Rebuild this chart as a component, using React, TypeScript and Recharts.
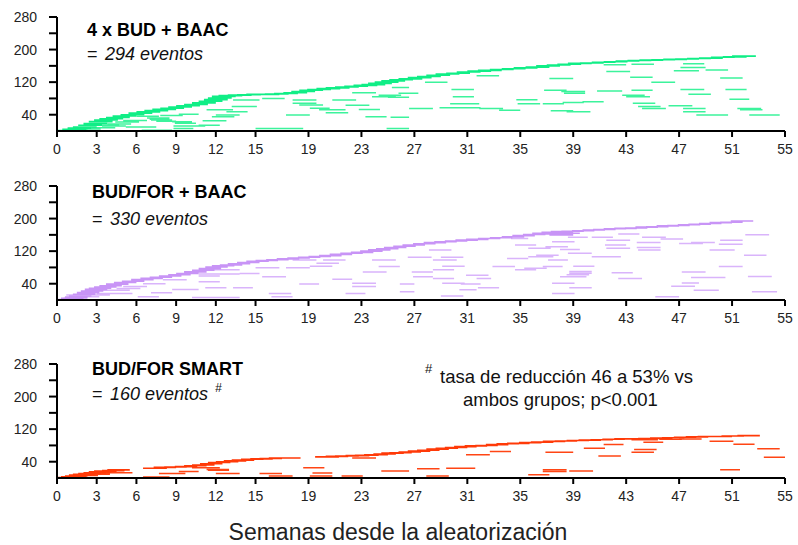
import React from 'react';
import { LineChart, Line, XAxis, YAxis } from 'recharts';

// Each segment: [start week, end week, row value]
const xTicks = [0, 3, 6, 9, 12, 15, 19, 23, 27, 31, 35, 39, 43, 47, 51, 55];
const yTicks = [40, 80, 120, 160, 200, 240, 280];
const yLabels = [40, 120, 200, 280];

const p1Top: number[][] = [
  [0,1.8,1],[0.4,2.2,4],[0.8,2.6,7],[1.2,3.0,10],[1.6,3.4,14],[2.0,3.8,18],[2.4,4.2,23],[2.8,4.6,27],[3.2,5.0,30],[3.7,5.5,33],
  [4.2,6.0,37],[4.8,6.6,40],[5.4,7.2,44],[6.0,7.8,47],[6.6,8.4,50],[7.2,9.0,53],[7.8,9.6,56],[8.4,10.2,59],[9.0,10.8,62],[9.6,11.4,65],
  [10.2,12.0,69],[10.7,12.5,73],[11.1,12.9,77],[11.4,13.2,81],[11.7,13.5,85],[12.2,14.0,87],[12.9,14.7,88],[13.6,15.4,89],[14.3,16.1,90],[15.0,16.8,90],
  [15.7,17.5,91],[16.4,18.2,92],[17.1,18.9,94],[17.7,19.5,97],[18.3,20.1,100],[18.9,20.7,102],[19.6,21.4,104],[20.3,22.1,106],[21.0,22.8,108],[21.7,23.5,110],
  [22.4,24.2,112],[23.0,24.8,114],[23.5,25.3,117],[24.0,25.8,120],[24.5,26.3,123],[25.1,26.9,126],[25.8,27.6,128],[26.5,28.3,131],[27.2,29.0,134],[27.9,29.7,137],
  [28.6,30.4,140],[29.4,31.2,142],[30.2,32.0,145],[31.0,32.8,147],[31.8,33.6,149],[32.7,34.5,151],[33.6,35.4,153],[34.5,36.3,155],[35.4,37.2,157],[36.2,38.0,160],
  [37.0,38.8,162],[37.8,39.6,164],[38.6,40.4,166],[39.5,41.3,167],[40.4,42.2,169],[41.3,43.1,170],[42.2,44.0,172],[43.1,44.9,173],[44.0,45.8,174],[44.9,46.7,175],
  [45.8,47.6,176],[46.7,48.5,177],[47.6,49.4,178],[48.5,50.3,179],[49.4,51.2,181],[50.3,52.1,182],[51.0,52.8,184],
];
const p1Low: number[][] = [
  [0.5,2.3,3],[1.5,3.3,5],[2.6,4.4,8],[3.4,5.2,12],[3.8,5.6,17],[4.4,6.2,22],[5.0,6.8,26],[2.9,4.7,14],[5.2,7.5,10],[6.4,8.7,2],
  [7.1,8.7,27],[7.0,8.5,29],[7.5,9.0,24],[8.7,10.2,23],[8.8,10.7,12],[8.9,10.5,19],[9.2,10.7,41],[8.8,10.3,6],[9.9,11.2,12],[10.7,12.3,14],
  [11.0,12.8,25],[11.7,13.4,35],[11.3,13.3,52],[12.8,14.4,47],[13.2,15.1,60],[13.3,15.3,76],[12.0,13.8,39],[6.0,7.7,36],[6.8,8.5,32],[7.8,9.5,38],
  [15.0,16.8,6],[16.6,18.6,6],[15.5,17.2,80],[17.8,19.6,76],[17.8,19.6,68],[19.1,20.6,56],[17.3,19.1,39],[18.3,20.1,64],[19.8,21.8,52],[20.3,22.0,45],
  [21.8,23.6,63],[22.8,24.4,53],[23.3,24.9,35],[20.8,22.6,76],[22.3,24.1,94],[23.8,25.6,84],[24.3,26.0,88],[24.9,26.6,6],[25.3,26.6,107],[25.8,27.3,93],
  [25.0,26.6,83],[25.2,26.6,34],[27.8,29.5,120],[37.2,39.0,129],[29.8,31.5,102],[29.9,31.5,84],[36.8,38.5,100],[38.1,39.9,97],[38.3,39.9,93],[40.8,42.7,98],
  [41.5,43.3,146],[43.3,45.0,132],[44.9,46.7,120],[43.4,45.0,100],[42.7,44.4,88],[43.0,44.8,84],[43.5,45.2,68],[46.2,48.0,62],[47.1,48.9,102],[47.7,49.4,90],
  [46.6,48.5,148],[50.1,51.8,130],[50.5,52.1,102],[50.8,52.3,78],[34.7,36.3,77],[34.8,36.5,67],[36.7,38.3,67],[38.2,39.8,70],[39.7,41.3,72],[29.7,31.9,67],
  [28.9,30.4,57],[30.4,32.0,57],[31.9,33.7,55],[33.4,35.0,51],[26.6,28.4,55],[37.3,39.0,50],[38.5,40.3,47],[43.9,45.6,60],[44.2,46.0,55],[47.3,49.0,55],
  [47.3,49.0,47],[48.3,50.7,39],[51.4,53.2,55],[51.6,53.3,52],[52.3,54.6,39],[31.7,33.4,136],[49.0,50.7,150],[47.1,49.0,156],[43.4,45.1,164],[41.3,43.0,163],
  [47.3,48.9,165],
];

const p2Top: number[][] = [
  [0,1.7,1],[0.3,2.0,4],[0.6,2.3,7],[0.9,2.6,10],[1.2,2.9,14],[1.5,3.2,18],[1.8,3.5,22],[2.1,3.8,26],[2.4,4.1,29],[2.8,4.5,32],
  [3.2,4.9,35],[3.7,5.4,39],[4.3,6.0,43],[4.9,6.6,46],[5.6,7.3,50],[6.3,8.0,53],[7.0,8.7,56],[7.7,9.4,59],[8.4,10.1,62],[9.0,10.7,65],
  [9.6,11.3,69],[10.2,11.9,73],[10.7,12.4,77],[11.2,12.9,81],[11.7,13.4,84],[12.3,14.0,86],[12.9,14.6,89],[13.6,15.3,92],[14.3,16.0,95],[15.0,16.7,97],
  [15.8,17.5,99],[16.6,18.3,101],[17.4,19.1,103],[18.2,19.9,105],[19.0,20.7,107],[19.8,21.5,109],[20.6,22.3,112],[21.4,23.1,115],[22.2,23.9,117],[22.9,24.6,120],
  [23.5,25.2,123],[24.1,25.8,126],[24.7,26.4,129],[25.4,27.1,132],[26.1,27.8,135],[26.9,28.6,138],[27.7,29.4,141],[28.5,30.2,143],[29.3,31.0,145],[30.1,31.8,147],
  [30.9,32.6,149],[31.8,33.5,151],[32.7,34.4,153],[33.6,35.3,155],[34.4,36.1,158],[35.2,36.9,161],[35.9,37.6,164],[36.6,38.3,166],[37.3,39.0,168],[38.1,39.8,169],
  [38.9,40.6,170],[39.7,41.4,172],[40.5,42.2,173],[41.3,43.0,175],[42.1,43.8,176],[42.9,44.6,177],[43.7,45.4,179],[44.5,46.2,180],[45.3,47.0,182],[46.1,47.8,183],
  [46.9,48.6,185],[47.7,49.4,186],[48.5,50.2,188],[49.3,51.0,190],[50.1,51.8,191],[50.9,52.6,194],[36.8,38.6,162],[37.2,39.0,160],[37.8,39.5,164],
];
const p2Low: number[][] = [
  [0.5,2.3,4],[1.4,3.2,8],[2.2,4.0,12],[3.0,4.8,16],[3.2,5.5,24],[3.9,5.7,16],[4.5,6.3,28],[0.7,2.4,12],[6.1,7.7,8],[7.1,8.7,18],
  [8.7,10.7,26],[10.2,12.0,6],[12.0,13.8,6],[10.7,12.3,59],[10.7,13.8,64],[11.7,13.8,74],[10.7,12.3,45],[11.2,12.8,30],[13.8,15.3,65],[15.0,16.8,79],
  [15.5,17.3,57],[16.2,17.8,8],[16.0,17.7,16],[13.3,14.8,30],[17.3,19.1,79],[17.8,19.6,98],[18.3,19.8,39],[19.1,20.8,83],[19.6,21.3,90],[20.1,21.8,98],
  [20.8,22.3,51],[21.8,23.3,16],[22.3,24.1,33],[22.3,24.1,41],[23.1,24.9,69],[23.8,25.6,98],[24.3,25.9,82],[8.0,9.8,50],[6.5,8.2,40],[5.0,6.8,33],
  [28.1,29.8,123],[26.5,28.3,105],[28.4,30.2,98],[29.0,30.7,105],[29.1,30.8,83],[28.4,30.0,74],[26.8,28.4,69],[26.9,28.4,57],[28.4,30.0,53],[25.9,27.0,39],
  [25.9,27.0,20],[29.0,30.7,10],[29.1,30.8,41],[30.5,32.0,39],[30.9,32.6,61],[31.7,32.8,53],[31.8,33.4,30],[30.4,31.7,25],[32.9,34.6,82],[34.6,36.2,74],
  [35.3,37.0,78],[34.0,35.6,102],[34.6,36.2,135],[34.3,35.6,151],[35.6,37.5,106],[36.2,37.9,110],[36.9,38.6,131],[35.6,37.3,127],[37.4,39.1,143],[38.0,39.5,124],
  [37.1,38.6,98],[38.7,40.4,70],[38.7,40.4,66],[38.5,40.2,62],[38.0,40.0,57],[39.0,40.6,83],[36.7,38.2,82],[37.4,39.1,41],[38.7,40.4,30],[37.4,39.1,16],
  [38.6,40.4,115],[40.4,42.6,106],[40.4,42.0,154],[38.6,40.1,154],[41.5,43.3,147],[41.4,43.0,135],[41.5,43.3,127],[42.4,44.0,162],[41.9,43.5,67],[42.4,44.2,53],
  [43.8,45.6,141],[43.8,45.6,129],[43.9,45.6,123],[44.2,46.0,154],[45.6,47.3,150],[47.0,48.8,139],[47.9,49.7,141],[49.3,51.2,123],[50.1,51.8,147],[50.0,51.8,137],
  [52.0,53.8,160],[51.9,53.6,110],[50.0,51.8,82],[47.2,49.0,69],[47.9,49.7,55],[48.7,50.5,55],[47.2,48.5,42],[46.4,48.2,34],[48.1,50.0,24],[52.2,54.0,58],
  [52.5,54.4,20],[45.2,47.0,8],
];

const p3Top: number[][] = [
  [0,1.7,1],[0.3,2.0,3],[0.6,2.3,5],[0.9,2.6,7],[1.2,2.9,9],[1.6,3.3,11],[2.0,3.7,13],[2.4,4.1,15],[2.8,4.5,17],[3.4,5.1,18],
  [3.8,5.5,20],[6.5,8.3,24],[7.3,9.0,26],[8.1,9.8,27],[8.9,10.6,28],[9.6,11.3,30],[10.2,11.9,32],[10.8,12.5,35],[11.4,13.1,38],[12.0,13.7,40],
  [12.6,14.3,42],[13.2,14.9,44],[13.9,15.6,46],[14.6,16.3,47],[15.3,17.0,48],[16.0,17.7,49],[16.6,18.4,49],[19.5,21.3,52],[20.3,22.0,53],[21.0,22.8,54],
  [21.8,23.6,55],[22.5,24.3,56],[23.2,25.0,57],[23.9,25.6,59],[24.5,26.2,61],[25.1,26.8,62],[25.8,27.5,64],[26.5,28.2,66],[27.2,28.9,68],[27.9,29.6,71],
  [28.6,30.3,73],[29.3,31.0,75],[30.0,31.7,77],[30.8,32.5,79],[31.6,33.3,80],[32.4,34.1,82],[33.2,34.9,84],[34.0,35.7,85],[34.9,36.6,87],[35.8,37.5,88],
  [36.7,38.4,90],[37.6,39.3,91],[38.5,40.2,92],[39.4,41.1,93],[40.3,42.0,94],[41.2,42.9,95],[42.1,43.8,96],[43.0,44.7,96],[43.9,45.6,97],[44.8,46.5,98],
  [45.7,47.4,99],[46.6,48.3,100],[47.5,49.2,101],[48.4,50.1,102],[49.3,51.0,102],[50.2,51.9,103],[51.4,53.1,104],
];
const p3Low: number[][] = [
  [0.5,2.2,3],[1.4,3.1,6],[2.2,4.0,9],[3.2,5.7,13],[6.5,8.5,2.5],[7.7,9.7,11],[9.2,10.7,16],[12.0,13.8,11],[11.4,13.0,19],[11.3,13.0,21],
  [10.2,12.3,25],[16.0,17.8,5],[15.3,17.0,11],[18.6,20.2,25],[19.1,20.8,5],[19.3,20.8,12],[21.5,23.1,5],[22.3,24.1,49],[24.5,25.9,17],[30.9,32.7,57],
  [32.7,34.3,65],[36.9,39.0,63],[39.8,41.4,73],[41.3,42.8,82],[40.9,42.6,54],[43.4,45.1,63],[43.6,45.3,70],[43.4,45.4,94],[44.3,45.8,88],[49.3,51.1,90],
  [51.1,52.7,83],[52.9,54.6,72],[53.4,55.0,51],[50.1,51.6,20],[27.2,28.9,23],[29.4,31.6,24],[25.9,26.6,17],[27.9,29.6,5],[35.6,37.2,8],[36.7,38.5,20.5],
  [36.7,38.5,16],[38.7,40.5,17],[47.0,48.7,96],[45.5,47.2,95],
];

type Pt = { x: number; y: number | null };
const flatten = (segs: number[][]): Pt[] => {
  const out: Pt[] = [];
  segs.forEach(([s, e, v]) => {
    out.push({ x: s, y: v });
    out.push({ x: e, y: v });
    out.push({ x: e, y: null });
  });
  return out;
};

const W = 798;
const CH = 161;

const Panel = ({ top, low, color, lowColor, offset }: { top: number[][]; low: number[][]; color: string; lowColor: string; offset: number }) => (
  <div style={{ position: 'absolute', left: 0, top: offset }}>
    <LineChart width={W} height={CH} margin={{ top: 17, right: 13, bottom: 0, left: 0 }}>
      <XAxis
        dataKey="x"
        type="number"
        domain={[0, 55]}
        ticks={xTicks}
        interval={0}
        height={30}
        tickSize={6}
        tickMargin={7}
        allowDuplicatedCategory={false}
        axisLine={{ stroke: '#000', strokeWidth: 2 }}
        tickLine={{ stroke: '#000', strokeWidth: 2 }}
        tick={{ fill: '#222', fontSize: 14 }}
      />
      <YAxis
        type="number"
        domain={[0, 280]}
        ticks={yTicks}
        interval={0}
        width={57}
        tickSize={8}
        tickMargin={12}
        tickFormatter={(v: number) => (yLabels.includes(v) ? String(v) : '')}
        axisLine={{ stroke: '#000', strokeWidth: 2 }}
        tickLine={{ stroke: '#000', strokeWidth: 2 }}
        tick={{ fill: '#222', fontSize: 14 }}
      />
      <Line data={flatten(low)} dataKey="y" stroke={lowColor} strokeWidth={1.5} dot={false} activeDot={false} isAnimationActive={false} connectNulls={false} type="linear" />
      <Line data={flatten(top)} dataKey="y" stroke={color} strokeWidth={1.6} dot={false} activeDot={false} isAnimationActive={false} connectNulls={false} type="linear" />
    </LineChart>
  </div>
);

export default function App() {
  const font = 'Arial, "Liberation Sans", sans-serif';
  return (
    <div style={{ position: 'absolute', left: 0, top: 0, width: W, height: 545, background: '#fff', fontFamily: font, overflow: 'hidden' }}>
      <Panel top={p1Top} low={p1Low} color="#10EE86" lowColor="#3CF39C" offset={0} />
      <Panel top={p2Top} low={p2Low} color="#C894F6" lowColor="#D9B4FB" offset={169} />
      <Panel top={p3Top} low={p3Low} color="#FF3A08" lowColor="#FF4514" offset={347} />
      <svg width={W} height={545} style={{ position: 'absolute', left: 0, top: 0, pointerEvents: 'none' }} fontFamily={font}>
        <text x={87} y={36} fontSize={18} fontWeight="bold" fill="#000">4 x BUD + BAAC</text>
        <text x={87} y={60} fontSize={18} fill="#111">=</text>
        <text x={105} y={60} fontSize={18} fontStyle="italic" fill="#111">294 eventos</text>

        <text x={92} y={198} fontSize={18} fontWeight="bold" fill="#000">BUD/FOR + BAAC</text>
        <text x={92} y={225} fontSize={18} fill="#111">=</text>
        <text x={110} y={225} fontSize={18} fontStyle="italic" fill="#111">330 eventos</text>

        <text x={92} y={375} fontSize={18} fontWeight="bold" fill="#000">BUD/FOR SMART</text>
        <text x={92} y={400} fontSize={18} fill="#111">=</text>
        <text x={110} y={400} fontSize={18} fontStyle="italic" fill="#111">160 eventos</text>
        <text x={215} y={392} fontSize={12} fontStyle="italic" fill="#111">#</text>

        <text x={425} y={373} fontSize={13} fill="#111">#</text>
        <text x={440} y={383} fontSize={18.5} fill="#111">tasa de reducción 46 a 53% vs</text>
        <text x={463} y={406} fontSize={18.5} fill="#111">ambos grupos; p&lt;0.001</text>

        <text x={398} y={540} fontSize={23} textAnchor="middle" fill="#222">Semanas desde la aleatorización</text>
      </svg>
    </div>
  );
}
